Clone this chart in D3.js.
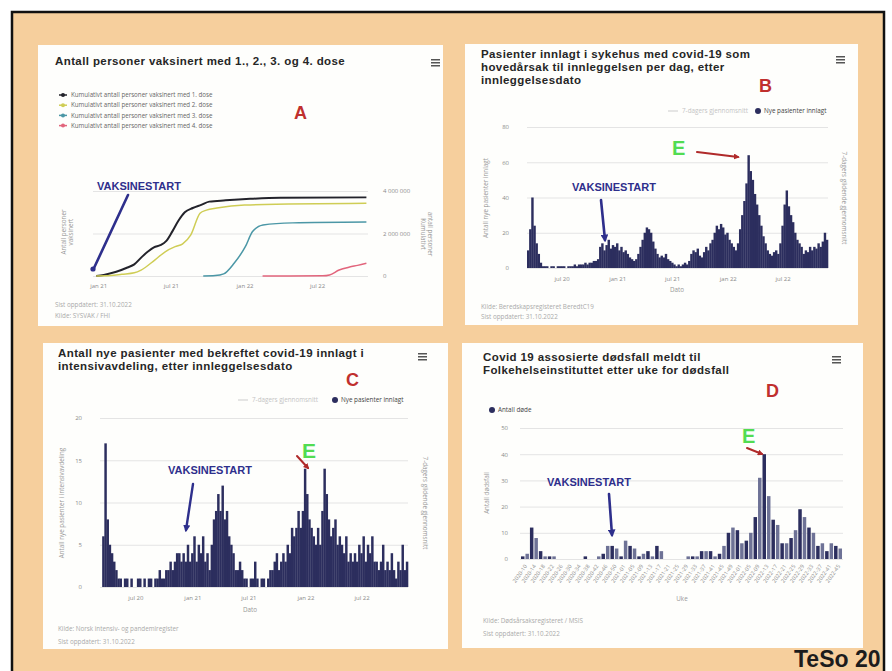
<!DOCTYPE html>
<html>
<head>
<meta charset="utf-8">
<script src="https://cdn.jsdelivr.net/npm/d3@7"></script>
<style>
  body { margin: 0; background: #fff; }
  svg { display: block; font-family: "Open Sans", "Noto Sans", sans-serif; }
</style>
</head>
<body>
<svg id="chart" width="892" height="671"></svg>
<script>
/* DATA */
// A. cumulative number of vaccinated persons [date, persons]
const doseNames = [
  "Kumulativt antall personer vaksinert med 1. dose",
  "Kumulativt antall personer vaksinert med 2. dose",
  "Kumulativt antall personer vaksinert med 3. dose",
  "Kumulativt antall personer vaksinert med 4. dose"
];
const dose1 = [["2020-12-27",0],["2021-01-15",50000],["2021-02-15",200000],["2021-03-15",400000],["2021-04-01",550000],
  ["2021-04-20",900000],["2021-05-05",1150000],["2021-05-20",1350000],["2021-06-05",1450000],["2021-06-20",1650000],
  ["2021-07-05",2100000],["2021-07-20",2600000],["2021-08-05",3000000],["2021-08-25",3200000],["2021-09-15",3350000],
  ["2021-10-05",3500000],["2021-11-15",3560000],["2022-01-15",3630000],["2022-04-01",3680000],["2022-11-01",3700000]];
const dose2 = [["2020-12-27",0],["2021-02-01",20000],["2021-03-01",80000],["2021-04-01",150000],["2021-04-18",280000],
  ["2021-05-22",750000],["2021-06-17",1140000],["2021-07-12",1380000],["2021-07-30",1500000],["2021-08-20",1930000],
  ["2021-09-12",2950000],["2021-09-28",3100000],["2021-10-24",3200000],["2022-01-01",3340000],["2022-11-01",3420000]];
const dose3 = [["2021-09-20",0],["2021-10-20",20000],["2021-11-10",100000],["2021-12-06",600000],["2022-01-03",1380000],
  ["2022-01-21",2090000],["2022-02-16",2400000],["2022-05-01",2500000],["2022-11-01",2540000]];
const dose4 = [["2022-02-15",0],["2022-07-15",10000],["2022-08-01",50000],["2022-08-25",280000],["2022-09-20",420000],
  ["2022-10-10",500000],["2022-11-01",600000]];
const doseColors = ["#23232b", "#cfcd55", "#4b97a6", "#e2657c"];
const doseTicks = [0, 2000000, 4000000];
const monthTicksA = ["2021-01-01", "2021-07-01", "2022-01-01", "2022-07-01"];

// B. new hospital admissions, weekly from 2020-03-09
const hospStart = "2020-03-09";
const hospitalised = [10,22,40,24,14,8,3,1,
  1,1,0,1,1,0,1,1,1,1,0,1,1,1,2,1,2,2,2,3,2,3,3,4,4,5,
  12,14,10,13,16,11,13,12,14,10,12,9,10,8,
  6,5,4,5,
  8,12,16,20,23,22,20,15,11,8,6,
  7,6,8,5,4,3,2,
  1,2,1,2,3,2,4,
  8,10,9,11,7,6,9,12,10,
  14,16,20,24,22,25,23,19,20,16,14,12,
  10,14,22,30,38,48,
  64,55,50,42,36,
  30,24,18,14,10,
  8,7,9,10,8,14,
  24,36,44,35,30,26,20,
  16,14,12,8,10,9,12,
  10,12,11,14,12,15,20,16];
const hospTicks = [0, 20, 40, 60, 80];

// C. new ICU admissions, weekly from 2020-03-09
const icuStart = "2020-03-09";
const icu = [0,6,17,8,5,4,3,2,1,1,
  0,1,1,0,
  1,0,0,1,1,0,1,0,1,1,0,1,1,2,1,1,2,
  2,3,2,3,4,
  4,3,4,3,
  5,3,4,
  6,3,5,4,6,3,4,2,
  5,8,9,11,9,12,8,9,6,5,4,
  2,2,3,2,1,
  1,0,1,1,3,1,0,1,1,0,
  1,2,2,3,4,2,3,4,3,5,
  4,7,6,7,9,
  7,9,14,11,8,7,
  6,5,7,5,9,14,
  11,8,6,7,8,5,6,
  5,4,6,3,4,3,4,
  3,5,4,6,3,5,4,6,3,
  3,2,3,5,2,3,2,4,2,1,3,2,5,2,3];
const icuTicks = [0, 5, 10, 15, 20];
const sixMonthTicks = ["2020-07-01", "2021-01-01", "2021-07-01", "2022-01-01", "2022-07-01"];

// D. covid-19 associated deaths, every second week from 2020-03-02
const deathStart = "2020-03-02";
const deaths = [1,2,12,8,3,1,1,1,0,
  0,0,0,0,0,1,0,0,1,
  2,5,5,4,1,7,5,4,1,2,3,1,5,3,0,
  0,0,0,0,
  1,1,1,
  3,3,3,
  1,2,5,10,12,11,6,7,10,16,31,40,
  24,15,13,6,6,8,11,19,16,12,10,5,6,3,6,5,4];
const deathTicks = [0, 10, 20, 30, 40, 50];

/* CONSTANTS */
const svg = d3.select("#chart");
const parse = d3.timeParse("%Y-%m-%d");
const navy = "#2c2e5e";
const annBlue = "#2e2f8c";
const letterRed = "#c0302e";
const eGreen = "#52dc52";
const gridGrey = "#e4e4e4";
const tickGrey = "#8a8a8a";
const sansBold = "Liberation Sans, Arial, sans-serif";
const monthNames = ["jan","feb","mar","apr","mai","jun","jul","aug","sep","okt","nov","des"];
const fmtMonth = d => monthNames[d.getMonth()] + " " + d3.timeFormat("%y")(d);

const defs = svg.append("defs");
[["navyHead", annBlue], ["redHead", "#b02a2a"]].forEach(([id, c]) => {
  defs.append("marker")
    .attr("id", id)
    .attr("viewBox", "0 0 10 10")
    .attr("refX", 7).attr("refY", 5)
    .attr("markerWidth", 3).attr("markerHeight", 3)
    .attr("orient", "auto")
    .append("path").attr("d", "M0,0L10,5L0,10z").attr("fill", c);
});

/* FRAME */
svg.append("rect")
  .attr("x", 12).attr("y", 12)
  .attr("width", 872).attr("height", 680)
  .attr("fill", "#f6cf9d")
  .attr("stroke", "#111").attr("stroke-width", 2.5);

/* HELPERS */
function drawPanel(box, title, tx, ty, mx, my) {
  const g = svg.append("g");
  g.append("rect")
    .attr("x", box.x).attr("y", box.y)
    .attr("width", box.w).attr("height", box.h)
    .attr("fill", "#fefefc");
  title.forEach((t, i) => {
    g.append("text")
      .attr("x", tx).attr("y", ty + i * 12.9)
      .attr("font-family", sansBold)
      .attr("font-size", "11.5px").attr("font-weight", "bold")
      .attr("letter-spacing", "0.4px")
      .attr("fill", "#262626")
      .text(t);
  });
  [0, 3, 6].forEach(dy => {
    g.append("rect")
      .attr("x", mx).attr("y", my + dy)
      .attr("width", 9).attr("height", 1.5)
      .attr("fill", "#555");
  });
  return g;
}

function smallText(g, x, y, txt, opts = {}) {
  const t = g.append("text")
    .attr("x", x).attr("y", y)
    .attr("font-size", opts.size || "6.3px")
    .attr("fill", opts.fill || "#999")
    .attr("text-anchor", opts.anchor || "start")
    .text(txt);
  if (opts.rotate) t.attr("transform", `rotate(${opts.rotate},${x},${y})`);
  return t;
}

function letter(x, y, txt, color, size) {
  svg.append("text")
    .attr("x", x).attr("y", y)
    .attr("font-family", sansBold)
    .attr("font-size", size).attr("font-weight", "bold")
    .attr("fill", color)
    .text(txt);
}

function vaksinestart(x, y) {
  svg.append("text")
    .attr("x", x).attr("y", y)
    .attr("font-family", sansBold)
    .attr("font-size", "11px").attr("font-weight", "bold")
    .attr("fill", annBlue)
    .text("VAKSINESTART");
}

function arrow(x1, y1, x2, y2, color, head, width) {
  const l = svg.append("line")
    .attr("x1", x1).attr("y1", y1).attr("x2", x2).attr("y2", y2)
    .attr("stroke", color).attr("stroke-width", width)
    .attr("stroke-linecap", "round");
  if (head) l.attr("marker-end", `url(#${head})`);
}

function styleAxis(g, size) {
  g.attr("font-family", "Open Sans, Noto Sans, sans-serif");
  g.select(".domain").remove();
  g.selectAll(".tick line").attr("stroke", gridGrey);
  g.selectAll(".tick text").attr("fill", tickGrey).attr("font-size", size || "6px");
}

/* CHART A. vaccinated persons */
const pA = {x: 38, y: 45, w: 405, h: 281};
const gA = drawPanel(pA, ["Antall personer vaksinert med 1., 2., 3. og 4. dose"], 55, 65, 431, 59);

const xA = d3.scaleTime().domain([parse("2020-12-19"), parse("2022-11-05")]).range([93, 368]);
const yA = d3.scaleLinear().domain([0, 4000000]).range([276, 191]);

gA.append("g")
  .attr("transform", "translate(368,0)")
  .call(d3.axisRight(yA).tickValues(doseTicks).tickSize(-(368 - 93)).tickPadding(15)
    .tickFormat(d => d3.format(",")(d).replace(/,/g, " ")))
  .call(g => styleAxis(g));

gA.append("g")
  .attr("transform", "translate(0,276)")
  .call(d3.axisBottom(xA).tickValues(monthTicksA.map(parse)).tickSize(0).tickPadding(8).tickFormat(fmtMonth))
  .call(g => styleAxis(g));

const lineA = d3.line()
  .x(d => xA(parse(d[0])))
  .y(d => yA(d[1]))
  .curve(d3.curveMonotoneX);

[dose1, dose2, dose3, dose4].forEach((s, i) => {
  gA.append("path")
    .datum(s)
    .attr("d", lineA)
    .attr("fill", "none")
    .attr("stroke", doseColors[i])
    .attr("stroke-width", i === 0 ? 2 : 1.5);
});

// legend
doseNames.forEach((n, i) => {
  const ly = 95 + i * 10.2;
  gA.append("line").attr("x1", 59).attr("x2", 67).attr("y1", ly).attr("y2", ly)
    .attr("stroke", doseColors[i]).attr("stroke-width", 1.5);
  gA.append("circle").attr("cx", 63).attr("cy", ly).attr("r", 2).attr("fill", doseColors[i]);
  smallText(gA, 71, ly + 2.2, n, {fill: "#666", size: "6.2px"});
});

smallText(gA, 66, 232, "Antall personer", {rotate: -90, anchor: "middle", fill: "#999"});
smallText(gA, 73, 232, "vaksinert", {rotate: -90, anchor: "middle", fill: "#999"});
smallText(gA, 421, 234, "Kumulativt", {rotate: 90, anchor: "middle", fill: "#999"});
smallText(gA, 428, 234, "antall personer", {rotate: 90, anchor: "middle", fill: "#999"});
smallText(gA, 55, 307, "Sist oppdatert: 31.10.2022", {fill: "#aaa"});
smallText(gA, 55, 318, "Kilde: SYSVAK / FHI", {fill: "#aaa"});

letter(294, 119, "A", letterRed, "18px");
vaksinestart(97, 190);
arrow(128, 195, 94, 268, annBlue, null, 2.6);
svg.append("circle").attr("cx", 93).attr("cy", 269).attr("r", 2.6).attr("fill", annBlue);

/* CHART B. hospital admissions */
const pB = {x: 465, y: 44, w: 393, h: 281};
const gB = drawPanel(pB, ["Pasienter innlagt i sykehus med covid-19 som",
  "hovedårsak til innleggelsen per dag, etter", "innleggelsesdato"], 481, 58, 836, 56);

const xB = d3.scaleTime().domain([parse(hospStart), parse("2022-11-28")]).range([527, 828]);
const yB = d3.scaleLinear().domain([0, 80]).range([268, 127]);

gB.append("g")
  .attr("transform", "translate(527,0)")
  .call(d3.axisLeft(yB).tickValues(hospTicks).tickSize(-(828 - 527)).tickPadding(18))
  .call(g => styleAxis(g));

gB.append("g")
  .attr("transform", "translate(0,268)")
  .call(d3.axisBottom(xB).tickValues(sixMonthTicks.map(parse)).tickSize(0).tickPadding(9).tickFormat(fmtMonth))
  .call(g => styleAxis(g));

gB.selectAll("rect.bar")
  .data(hospitalised)
  .join("rect")
  .attr("class", "bar")
  .attr("x", (d, i) => xB(d3.timeWeek.offset(parse(hospStart), i)))
  .attr("width", (d, i) => xB(d3.timeWeek.offset(parse(hospStart), i + 1)) - xB(d3.timeWeek.offset(parse(hospStart), i)) + 0.3)
  .attr("y", d => yB(d))
  .attr("height", d => yB(0) - yB(d))
  .attr("fill", navy);

gB.append("line").attr("x1", 668).attr("x2", 678).attr("y1", 111).attr("y2", 111).attr("stroke", "#ddd").attr("stroke-width", 1.5);
smallText(gB, 682, 113, "7-dagers gjennomsnitt", {fill: "#c4c4c4"});
gB.append("circle").attr("cx", 758).attr("cy", 111).attr("r", 3).attr("fill", navy);
smallText(gB, 764, 113, "Nye pasienter innlagt", {fill: "#444"});
smallText(gB, 488, 198, "Antall nye pasienter innlagt", {rotate: -90, anchor: "middle", fill: "#999"});
smallText(gB, 842, 198, "7-dagers glidende gjennomsnitt", {rotate: 90, anchor: "middle", fill: "#999"});
smallText(gB, 677, 292, "Dato", {anchor: "middle", fill: "#999"});
smallText(gB, 481, 309, "Kilde: Beredskapsregisteret BeredtC19", {fill: "#aaa"});
smallText(gB, 481, 319, "Sist oppdatert: 31.10.2022", {fill: "#aaa"});

letter(759, 92, "B", letterRed, "18px");
vaksinestart(572, 191);
arrow(601, 200, 605, 240, annBlue, "navyHead", 2.6);
letter(672, 155, "E", eGreen, "20px");
arrow(697, 152, 738, 157, "#b02a2a", "redHead", 2);

/* CHART C. ICU admissions */
const pC = {x: 43, y: 343, w: 405, h: 306};
const gC = drawPanel(pC, ["Antall nye pasienter med bekreftet covid-19 innlagt i",
  "intensivavdeling, etter innleggelsesdato"], 58, 357, 418, 353);

const xC = d3.scaleTime().domain([parse(icuStart), parse("2022-11-28")]).range([100, 408]);
const yC = d3.scaleLinear().domain([0, 20]).range([587, 418]);

gC.append("g")
  .attr("transform", "translate(100,0)")
  .call(d3.axisLeft(yC).tickValues(icuTicks).tickSize(-(408 - 100)).tickPadding(18))
  .call(g => styleAxis(g));

gC.append("g")
  .attr("transform", "translate(0,587)")
  .call(d3.axisBottom(xC).tickValues(sixMonthTicks.map(parse)).tickSize(0).tickPadding(9).tickFormat(fmtMonth))
  .call(g => styleAxis(g));

gC.selectAll("rect.bar")
  .data(icu)
  .join("rect")
  .attr("class", "bar")
  .attr("x", (d, i) => xC(d3.timeWeek.offset(parse(icuStart), i)))
  .attr("width", (d, i) => xC(d3.timeWeek.offset(parse(icuStart), i + 1)) - xC(d3.timeWeek.offset(parse(icuStart), i)) + 0.3)
  .attr("y", d => yC(d))
  .attr("height", d => yC(0) - yC(d))
  .attr("fill", navy);

gC.append("line").attr("x1", 238).attr("x2", 248).attr("y1", 400).attr("y2", 400).attr("stroke", "#ddd").attr("stroke-width", 1.5);
smallText(gC, 252, 402, "7-dagers gjennomsnitt", {fill: "#c4c4c4"});
gC.append("circle").attr("cx", 335).attr("cy", 400).attr("r", 3).attr("fill", navy);
smallText(gC, 341, 402, "Nye pasienter innlagt", {fill: "#444"});
smallText(gC, 64, 503, "Antall nye pasienter i intensivavdeling", {rotate: -90, anchor: "middle", fill: "#999"});
smallText(gC, 423, 503, "7-dagers glidende gjennomsnitt", {rotate: 90, anchor: "middle", fill: "#999"});
smallText(gC, 250, 612, "Dato", {anchor: "middle", fill: "#999"});
smallText(gC, 58, 631, "Kilde: Norsk intensiv- og pandemiregister", {fill: "#aaa"});
smallText(gC, 58, 644, "Sist oppdatert: 31.10.2022", {fill: "#aaa"});

letter(346, 386, "C", letterRed, "18px");
vaksinestart(168, 474);
arrow(193, 484, 186, 530, annBlue, "navyHead", 2.4);
letter(302, 458, "E", eGreen, "21px");
arrow(297, 456, 308, 468, "#b02a2a", "redHead", 2);

/* CHART D. deaths */
const pD = {x: 462, y: 343, w: 401, h: 305};
const gD = drawPanel(pD, ["Covid 19 assosierte dødsfall meldt til",
  "Folkehelseinstituttet etter uke for dødsfall"], 483, 361, 832, 356);

const weekLabels = deaths.map((d, i) => d3.timeFormat("%Y-%V")(d3.timeWeek.offset(parse(deathStart), i * 2)));
const xD = d3.scaleBand().domain(weekLabels).range([520, 843]).padding(0.22);
const yD = d3.scaleLinear().domain([0, 50]).range([559, 428]);

gD.append("g")
  .attr("transform", "translate(520,0)")
  .call(d3.axisLeft(yD).tickValues(deathTicks).tickSize(-(843 - 520)).tickPadding(12))
  .call(g => styleAxis(g));

gD.append("g")
  .attr("transform", "translate(0,559)")
  .call(d3.axisBottom(xD).tickValues(weekLabels.filter((d, i) => i % 2 === 0)).tickSize(0).tickPadding(4))
  .call(g => styleAxis(g, "5.5px"))
  .call(g => g.selectAll(".tick text")
    .attr("text-anchor", "end")
    .attr("dy", "0.3em")
    .attr("transform", "translate(0,4) rotate(-55)"));

gD.selectAll("rect.bar")
  .data(deaths)
  .join("rect")
  .attr("class", "bar")
  .attr("x", (d, i) => xD(weekLabels[i]))
  .attr("width", xD.bandwidth())
  .attr("y", d => yD(d))
  .attr("height", d => yD(0) - yD(d))
  .attr("fill", (d, i) => i % 2 === 0 ? navy : "#6e7296");

gD.append("circle").attr("cx", 492).attr("cy", 410).attr("r", 3).attr("fill", navy);
smallText(gD, 498, 412, "Antall døde", {fill: "#444"});
smallText(gD, 489, 493, "Antall dødsfall", {rotate: -90, anchor: "middle", fill: "#999"});
smallText(gD, 682, 601, "Uke", {anchor: "middle", fill: "#999"});
smallText(gD, 483, 623, "Kilde: Dødsårsaksregisteret / MSIS", {fill: "#aaa"});
smallText(gD, 483, 636, "Sist oppdatert: 31.10.2022", {fill: "#aaa"});

letter(766, 397, "D", letterRed, "18px");
vaksinestart(547, 486);
arrow(609, 494, 612, 535, annBlue, "navyHead", 2.6);
letter(742, 443, "E", eGreen, "20px");
arrow(747, 448, 762, 454, "#b02a2a", "redHead", 2);

/* SIGNATURE */
svg.append("text")
  .attr("x", 794).attr("y", 667)
  .attr("font-family", sansBold)
  .attr("font-size", "23px").attr("font-weight", "bold")
  .attr("fill", "#1c1c1c")
  .text("TeSo 20");
</script>
</body>
</html>
